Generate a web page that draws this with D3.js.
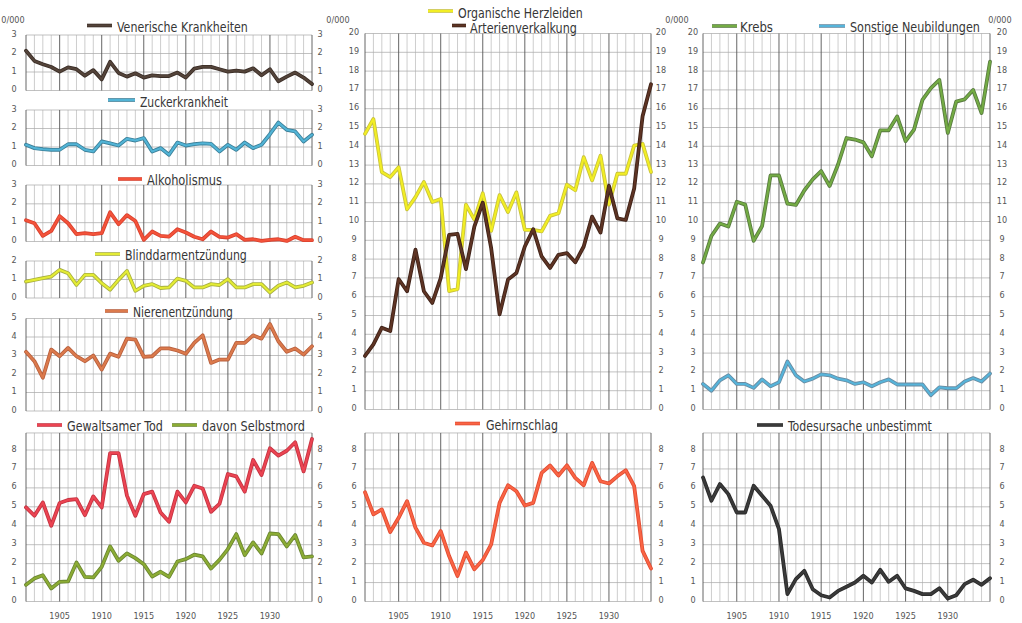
<!DOCTYPE html>
<html>
<head>
<meta charset="utf-8">
<script src="https://cdn.jsdelivr.net/npm/d3@7"></script>
<style>
  body { margin: 0; background: #fff; }
  svg text { font-family: "Liberation Sans Narrow", "DejaVu Sans Condensed", "Liberation Sans", sans-serif; }
</style>
</head>
<body>
<svg id="chart" width="1022" height="623"></svg>
<script>
// Sterbefälle auf 10 000 Einwohner, 1901–1935
const years = d3.range(1901, 1936);
const yearLabels = [1905, 1910, 1915, 1920, 1925, 1930];

const venerisch   = [2.15,1.6,1.42,1.27,1.02,1.25,1.15,0.8,1.1,0.6,1.55,0.95,0.75,0.93,0.7,0.82,0.78,0.78,0.97,0.7,1.18,1.28,1.28,1.15,1.02,1.08,1.02,1.2,0.82,1.15,0.5,0.75,0.97,0.7,0.35];
const zucker      = [1.12,0.94,0.88,0.85,0.85,1.15,1.15,0.85,0.76,1.3,1.2,1.08,1.44,1.35,1.48,0.76,0.94,0.58,1.24,1.08,1.15,1.2,1.17,0.76,1.12,0.85,1.24,0.94,1.12,1.69,2.32,1.93,1.84,1.3,1.66];
const alkohol     = [1.13,0.97,0.3,0.56,1.35,0.97,0.39,0.44,0.39,0.44,1.55,0.92,1.4,1.09,0.09,0.53,0.3,0.26,0.65,0.48,0.25,0.12,0.53,0.25,0.21,0.39,0.09,0.12,0.03,0.09,0.12,0.03,0.25,0.07,0.07];
const blinddarm   = [0.89,0.98,1.07,1.16,1.52,1.34,0.71,1.25,1.25,0.8,0.45,0.98,1.46,0.39,0.66,0.75,0.54,0.57,1.05,0.93,0.57,0.57,0.75,0.7,1.02,0.57,0.57,0.75,0.75,0.3,0.66,0.84,0.57,0.66,0.84];
const nieren      = [3.2,2.69,1.8,3.32,2.96,3.41,2.96,2.69,3.0,2.24,3.1,2.93,3.91,3.86,2.93,2.96,3.38,3.38,3.27,3.09,3.68,4.09,2.6,2.78,2.78,3.68,3.68,4.09,3.91,4.7,3.77,3.2,3.38,3.05,3.5];
const gewalt      = [4.97,4.53,5.23,4.0,5.2,5.36,5.41,4.56,5.55,4.97,7.84,7.84,5.59,4.53,5.67,5.8,4.7,4.21,5.8,5.23,6.11,5.97,4.74,5.15,6.73,6.61,5.8,7.47,6.68,8.09,7.7,7.96,8.41,6.87,8.58];
const selbstmord  = [0.88,1.22,1.39,0.69,1.04,1.06,2.06,1.3,1.27,1.83,2.91,2.15,2.54,2.29,1.97,1.32,1.57,1.3,2.11,2.24,2.47,2.38,1.74,2.2,2.77,3.56,2.45,3.12,2.54,3.59,3.56,2.91,3.51,2.33,2.38];
const herz        = [14.66,15.45,12.63,12.36,12.89,10.65,11.3,12.1,11.04,11.2,6.3,6.4,10.9,10.1,11.5,9.5,11.4,10.5,11.55,9.55,9.55,9.47,10.3,10.44,11.96,11.66,13.42,12.19,13.5,10.9,12.54,12.54,14.04,14.13,12.63];
const arterien    = [2.85,3.47,4.35,4.17,6.94,6.29,8.5,6.29,5.67,6.99,9.29,9.34,7.47,9.73,11.0,8.58,5.06,6.91,7.26,8.67,9.59,8.14,7.53,8.23,8.32,7.83,8.67,10.26,9.41,11.9,10.17,10.08,11.75,15.6,17.3];
const gehirn      = [5.77,4.6,4.86,3.67,4.42,5.3,3.9,3.1,2.96,3.72,2.4,1.35,2.58,1.7,2.19,3.02,5.21,6.14,5.82,5.07,5.21,6.79,7.18,6.65,7.19,6.53,6.14,7.32,6.35,6.23,6.61,6.93,6.09,2.67,1.74];
const krebs       = [7.82,9.23,9.89,9.73,11.05,10.9,8.97,9.76,12.45,12.45,10.95,10.88,11.65,12.24,12.68,11.89,13.03,14.44,14.36,14.21,13.47,14.85,14.85,15.59,14.27,14.89,16.47,17.09,17.53,14.71,16.38,16.5,17.0,15.77,18.5];
const sonstige    = [1.36,1.0,1.55,1.82,1.36,1.36,1.15,1.6,1.24,1.45,2.55,1.82,1.49,1.64,1.87,1.82,1.64,1.55,1.36,1.45,1.24,1.45,1.6,1.33,1.33,1.33,1.33,0.76,1.18,1.13,1.13,1.49,1.67,1.49,1.91];
const unbestimmt  = [6.55,5.32,6.2,5.67,4.7,4.7,6.11,5.59,5.06,3.82,0.39,1.18,1.62,0.65,0.33,0.21,0.56,0.78,1.0,1.36,1.0,1.67,1.04,1.36,0.69,0.56,0.39,0.39,0.7,0.16,0.33,0.92,1.15,0.88,1.23];

const svg = d3.select("#chart");

// three columns of plots
const cols = {
  L: { x0: 26,  x1: 312, lx: 14,  rx: 320 },
  M: { x0: 365, x1: 651, lx: 354, rx: 661 },
  R: { x0: 703, x1: 990, lx: 693, rx: 1002 }
};

// panel geometry: value range and pixel span
const panels = {
  ven:  { col: "L", max: 3,  top: 3,   yTop: 35,   y0: 90.5 },
  zuck: { col: "L", max: 3,  top: 3,   yTop: 110,  y0: 165.5 },
  alk:  { col: "L", max: 3,  top: 3,   yTop: 185,  y0: 241.5 },
  bli:  { col: "L", max: 2,  top: 2,   yTop: 261,  y0: 298 },
  nie:  { col: "L", max: 5,  top: 5,   yTop: 318.5,y0: 411 },
  gew:  { col: "L", max: 8,  top: 8.9, yTop: 450,  y0: 601.5 },
  herz: { col: "M", max: 20, top: 20,  yTop: 33.5, y0: 409.5 },
  geh:  { col: "M", max: 8,  top: 8.9, yTop: 450,  y0: 601.5 },
  kr:   { col: "R", max: 20, top: 20,  yTop: 33.5, y0: 409.5 },
  unb:  { col: "R", max: 8,  top: 8.9, yTop: 450,  y0: 601.5 }
};

const series = [
  { panel: "ven",  values: venerisch,  core: "#54443a", edge: "#3a2d26" },
  { panel: "zuck", values: zucker,     core: "#52b4d6", edge: "#3b7f98" },
  { panel: "alk",  values: alkohol,    core: "#f4533a", edge: "#d8402e" },
  { panel: "bli",  values: blinddarm,  core: "#e4ec34", edge: "#a8b040" },
  { panel: "nie",  values: nieren,     core: "#dc7a4c", edge: "#b8603e" },
  { panel: "gew",  values: gewalt,     core: "#ec4452", edge: "#c43442" },
  { panel: "gew",  values: selbstmord, core: "#8cac34", edge: "#6a8632" },
  { panel: "herz", values: herz,       core: "#f2ee24", edge: "#c8c23c" },
  { panel: "herz", values: arterien,   core: "#5e3424", edge: "#3e2218" },
  { panel: "geh",  values: gehirn,     core: "#fa6444", edge: "#e04c32" },
  { panel: "kr",   values: krebs,      core: "#74ac44", edge: "#587a40" },
  { panel: "kr",   values: sonstige,   core: "#56b4da", edge: "#6a8ca2" },
  { panel: "unb",  values: unbestimmt, core: "#3a3a3a", edge: "#2a2a2a" }
];

const legends = [
  { s: 0,  text: "Venerische Krankheiten",  lx: [87, 112],  ly: 25.5, tx: 117, ty: 31.5, tw: 131 },
  { s: 1,  text: "Zuckerkrankheit",         lx: [108, 135], ly: 100,  tx: 140, ty: 106.5, tw: 88 },
  { s: 2,  text: "Alkoholismus",            lx: [118, 142], ly: 179,  tx: 147, ty: 184.5, tw: 75 },
  { s: 3,  text: "Blinddarmentzündung",     lx: [95, 120],  ly: 254,  tx: 125, ty: 260,  tw: 122 },
  { s: 4,  text: "Nierenentzündung",        lx: [105, 128], ly: 311,  tx: 133, ty: 317,  tw: 100 },
  { s: 5,  text: "Gewaltsamer Tod",         lx: [37, 62],   ly: 425,  tx: 67,  ty: 430.5, tw: 96 },
  { s: 6,  text: "davon Selbstmord",        lx: [172, 197], ly: 425,  tx: 202, ty: 430.5, tw: 103 },
  { s: 7,  text: "Organische Herzleiden",   lx: [428, 453], ly: 11,   tx: 458, ty: 18,   tw: 125 },
  { s: 8,  text: "Arterienverkalkung",      lx: [452, 466], ly: 25.5, tx: 470, ty: 32.5, tw: 107 },
  { s: 9,  text: "Gehirnschlag",            lx: [455, 480], ly: 423.5,tx: 486, ty: 430,  tw: 72 },
  { s: 10, text: "Krebs",                   lx: [712, 737], ly: 26,   tx: 740, ty: 32,   tw: 33 },
  { s: 11, text: "Sonstige Neubildungen",   lx: [819, 845], ly: 26,   tx: 850, ty: 32,   tw: 130 },
  { s: 12, text: "Todesursache unbestimmt", lx: [757, 783], ly: 425,  tx: 788, ty: 430.5, tw: 144 }
];

const unitLabels = [13, 338, 677, 1000];

// x scale per column
Object.values(cols).forEach(c => {
  c.x = d3.scaleLinear().domain([1901, 1935]).range([c.x0, c.x1]);
});

// panel grids and axes
Object.values(panels).forEach(p => {
  const c = cols[p.col];
  p.y = d3.scaleLinear().domain([0, p.max]).range([p.y0, p.yTop]);
  const g = svg.append("g");
  const yTopPx = p.y(p.top);

  // horizontal rules
  g.selectAll("line.h").data(d3.range(0, p.max + 1)).join("line")
    .attr("x1", c.x0).attr("x2", c.x1)
    .attr("y1", d => p.y(d)).attr("y2", d => p.y(d))
    .attr("stroke", "#a6a6a6").attr("stroke-width", 0.7);
  if (p.top > p.max) {
    g.append("line").attr("x1", c.x0).attr("x2", c.x1)
      .attr("y1", yTopPx).attr("y2", yTopPx)
      .attr("stroke", "#a6a6a6").attr("stroke-width", 0.7);
  }

  // yearly verticals, heavier every five years and at the frame
  const heavy = d => d % 5 === 0 || d === 1901 || d === 1935;
  g.selectAll("line.v").data(years).join("line")
    .attr("x1", d => c.x(d)).attr("x2", d => c.x(d))
    .attr("y1", yTopPx).attr("y2", p.y(0))
    .attr("stroke", d => heavy(d) ? "#555" : "#ababab")
    .attr("stroke-width", d => heavy(d) ? 0.9 : 0.6);

  // axis figures on both sides
  const ticks = d3.range(0, p.max + 1);
  [c.lx, c.rx].forEach(tx => {
    g.selectAll(null).data(ticks).join("text")
      .attr("x", tx).attr("y", d => p.y(d) - 1.5)
      .attr("text-anchor", "middle").attr("dominant-baseline", "central")
      .attr("font-size", 9).attr("fill", "#555")
      .text(d => d);
  });
});

// unit marks
svg.selectAll("text.unit").data(unitLabels).join("text")
  .attr("x", d => d).attr("y", 22.5)
  .attr("text-anchor", "middle").attr("font-size", 9).attr("fill", "#555")
  .text("0/000");

// year labels under the bottom row
Object.values(cols).forEach(c => {
  svg.selectAll(null).data(yearLabels).join("text")
    .attr("x", d => c.x(d)).attr("y", 619)
    .attr("text-anchor", "middle").attr("font-size", 9).attr("fill", "#555")
    .text(d => d);
});

// series lines: dark rim with brighter core
series.forEach(s => {
  const p = panels[s.panel], c = cols[p.col];
  const line = d3.line().x((d, i) => c.x(years[i])).y(d => p.y(d));
  svg.append("path").attr("d", line(s.values)).attr("fill", "none")
    .attr("stroke", s.edge).attr("stroke-width", 3.8)
    .attr("stroke-linejoin", "round").attr("stroke-linecap", "round");
  svg.append("path").attr("d", line(s.values)).attr("fill", "none")
    .attr("stroke", s.core).attr("stroke-width", 2.1)
    .attr("stroke-linejoin", "round").attr("stroke-linecap", "round");
});

// legends / panel titles, condensed horizontally to their lettering width
legends.forEach(l => {
  const s = series[l.s];
  svg.append("line").attr("x1", l.lx[0]).attr("x2", l.lx[1]).attr("y1", l.ly).attr("y2", l.ly)
    .attr("stroke", s.edge).attr("stroke-width", 3.6);
  svg.append("line").attr("x1", l.lx[0]).attr("x2", l.lx[1]).attr("y1", l.ly).attr("y2", l.ly)
    .attr("stroke", s.core).attr("stroke-width", 2);
  const g = svg.append("g");
  const t = g.append("text").attr("x", 0).attr("y", 0)
    .attr("font-size", 14).attr("fill", "#363636")
    .text(l.text);
  const w = t.node().getComputedTextLength();
  g.attr("transform", `translate(${l.tx},${l.ty}) scale(${l.tw / w},1)`);
});
</script>
</body>
</html>
